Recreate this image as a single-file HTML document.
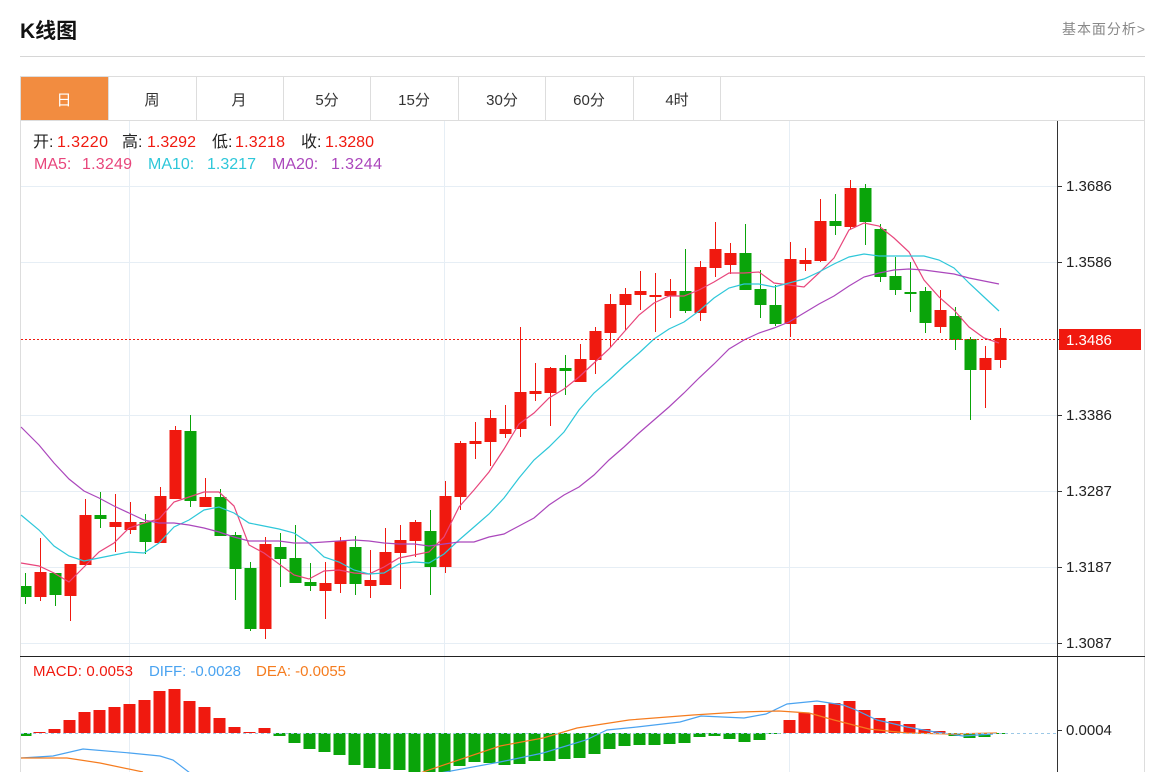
<!DOCTYPE html>
<html><head><meta charset="utf-8"><style>
body{margin:0;background:#fff;width:1172px;height:772px;overflow:hidden;font-family:"Liberation Sans","Noto Sans CJK SC",sans-serif}
svg{position:absolute;left:0;top:0}
</style></head><body>
<svg id="s" width="1172" height="772" xmlns="http://www.w3.org/2000/svg" font-family="Liberation Sans, Noto Sans CJK SC, sans-serif">
<text x="20" y="38" font-size="21" font-weight="bold" fill="#111">K线图</text>
<text x="1145" y="34" font-size="14" fill="#888" text-anchor="end" textLength="83">基本面分析&gt;</text>
<line x1="20" y1="56.5" x2="1145" y2="56.5" stroke="#d6d6d6"/>
<rect x="20.5" y="76.5" width="1124" height="700" fill="none" stroke="#ddd"/>
<line x1="20" y1="120.5" x2="1145" y2="120.5" stroke="#ddd"/>
<rect x="21" y="77" width="87" height="43" fill="#f28c40"/>
<g stroke="#ddd"><line x1="108.5" y1="77" x2="108.5" y2="120"/><line x1="196.5" y1="77" x2="196.5" y2="120"/><line x1="283.5" y1="77" x2="283.5" y2="120"/><line x1="370.5" y1="77" x2="370.5" y2="120"/><line x1="458.5" y1="77" x2="458.5" y2="120"/><line x1="545.5" y1="77" x2="545.5" y2="120"/><line x1="633.5" y1="77" x2="633.5" y2="120"/><line x1="720.5" y1="77" x2="720.5" y2="120"/></g>
<g font-size="15" text-anchor="middle" fill="#333"><text x="64" y="105" fill="#fff">日</text><text x="152" y="105">周</text><text x="239" y="105">月</text><text x="327" y="105">5分</text><text x="414" y="105">15分</text><text x="502" y="105">30分</text><text x="589" y="105">60分</text><text x="677" y="105">4时</text></g>
<g stroke="#e6eef5"><line x1="129.5" y1="121" x2="129.5" y2="772"/><line x1="444.5" y1="121" x2="444.5" y2="772"/><line x1="789.5" y1="121" x2="789.5" y2="772"/>
<line x1="21" y1="186.5" x2="1057" y2="186.5"/><line x1="21" y1="262.5" x2="1057" y2="262.5"/><line x1="21" y1="415.5" x2="1057" y2="415.5"/><line x1="21" y1="491.5" x2="1057" y2="491.5"/><line x1="21" y1="567.5" x2="1057" y2="567.5"/><line x1="21" y1="643.5" x2="1057" y2="643.5"/></g>
<g id="c"></g>
<line x1="21" y1="339.5" x2="1057" y2="339.5" stroke="#f0190f" stroke-dasharray="2,2"/>
<line x1="21" y1="733.5" x2="1057" y2="733.5" stroke="#9cc8e6" stroke-dasharray="3,3"/>
<line x1="1057.5" y1="121" x2="1057.5" y2="772" stroke="#333"/>
<line x1="20" y1="656.5" x2="1145" y2="656.5" stroke="#222"/>
<g stroke="#333"><line x1="1057" y1="186.5" x2="1062" y2="186.5"/><line x1="1057" y1="262.5" x2="1062" y2="262.5"/><line x1="1057" y1="339.5" x2="1062" y2="339.5"/><line x1="1057" y1="415.5" x2="1062" y2="415.5"/><line x1="1057" y1="491.5" x2="1062" y2="491.5"/><line x1="1057" y1="567.5" x2="1062" y2="567.5"/><line x1="1057" y1="643.5" x2="1062" y2="643.5"/><line x1="1057" y1="730.5" x2="1062" y2="730.5"/></g>
<rect x="1059" y="329" width="82" height="21" fill="#f0190f"/>
<g font-size="15" fill="#222"><text x="1066" y="191">1.3686</text><text x="1066" y="267">1.3586</text><text x="1066" y="345" fill="#fff">1.3486</text><text x="1066" y="420">1.3386</text><text x="1066" y="496">1.3287</text><text x="1066" y="572">1.3187</text><text x="1066" y="648">1.3087</text><text x="1066" y="735">0.0004</text></g>
<g font-size="16">
<text x="33" y="147" fill="#222">开:</text><text x="57" y="147" fill="#f0190f" textLength="51">1.3220</text>
<text x="122" y="147" fill="#222">高:</text><text x="147" y="147" fill="#f0190f" textLength="49">1.3292</text>
<text x="212" y="147" fill="#222">低:</text><text x="235" y="147" fill="#f0190f" textLength="50">1.3218</text>
<text x="301" y="147" fill="#222">收:</text><text x="325" y="147" fill="#f0190f" textLength="49">1.3280</text>
<text x="34" y="169" fill="#e8467c">MA5:</text><text x="82" y="169" fill="#e8467c" textLength="50">1.3249</text>
<text x="148" y="169" fill="#2ec7d9">MA10:</text><text x="207" y="169" fill="#2ec7d9" textLength="49">1.3217</text>
<text x="272" y="169" fill="#ab47bc">MA20:</text><text x="331" y="169" fill="#ab47bc" textLength="51">1.3244</text>
</g>
<g font-size="15"><text x="33" y="676" fill="#f0190f" textLength="100">MACD: 0.0053</text><text x="149" y="676" fill="#4aa3f0" textLength="92">DIFF: -0.0028</text><text x="256" y="676" fill="#f57c1f" textLength="90">DEA: -0.0055</text></g>
</svg>
<script>
var K=[["g",586,597,573,604],["r",572,597,538,601],["g",573,595,573,606],["r",564,596,564,621],["r",515,565,499,565],["g",515,519,492,528],["r",522,527,494,552],["r",522,530,502,534],["g",522,542,514,554],["r",496,543,487,543],["r",430,499,426,499],["g",431,501,415,507],["r",497,507,478,507],["g",497,536,489,536],["g",535,569,532,600],["g",568,629,562,631],["r",544,629,537,639],["g",547,559,533,587],["g",558,583,525,583],["g",582,586,563,591],["r",583,591,562,619],["r",541,584,537,593],["g",547,584,536,595],["r",580,586,550,598],["r",552,585,528,585],["r",540,553,525,589],["r",522,541,520,557],["g",531,567,510,595],["r",496,567,481,573],["r",443,497,441,510],["r",441,444,422,459],["r",418,442,410,466],["r",429,434,405,438],["r",392,429,327,437],["r",391,394,363,401],["r",368,393,367,426],["g",368,371,355,395],["r",359,382,344,382],["r",331,360,327,374],["r",304,333,294,347],["r",294,305,288,330],["r",291,295,271,310],["r",295,297,273,332],["r",291,296,279,318],["g",291,311,249,313],["r",267,313,261,321],["r",249,268,222,277],["r",253,265,243,274],["g",253,290,224,290],["g",289,305,270,318],["g",305,324,285,326],["r",259,324,242,337],["r",260,264,248,271],["r",221,261,199,262],["g",221,226,194,235],["r",188,227,180,229],["g",188,222,184,245],["g",229,277,224,282],["g",276,290,257,295],["g",292,293,262,312],["g",291,323,287,333],["r",310,327,290,333],["g",316,340,307,350],["g",339,370,337,420],["r",358,370,346,408],["r",338,360,328,368]];
var h="",R="#f0190f",G="#0aa40a";
K.forEach(function(k,i){var x=25+15*i,c=k[0]=="r"?R:G;var x0=Math.max(21,x-5.5);
h+='<line x1="'+(x+.5)+'" y1="'+k[3]+'" x2="'+(x+.5)+'" y2="'+k[4]+'" stroke="'+c+'"/>';
h+='<rect x="'+x0+'" y="'+k[1]+'" width="'+(x+5.5-x0+1)+'" height="'+Math.max(2,k[2]-k[1])+'" fill="'+c+'"/>';});
function pl(p,c){return '<polyline fill="none" stroke="'+c+'" stroke-width="1.2" points="'+p+'"/>';}
h+=pl("21,563 39,566 54,573 69,582 84,567 99,552 114,543 129,528 144,523 159,519 174,502 189,497 204,492 219,492 234,506 249,545 264,553 279,564 294,575 309,579 324,571 339,570 354,573 369,574 384,567 399,558 414,555 429,552 444,537 459,507 474,490 489,472 504,449 519,424 534,413 549,398 564,389 579,377 594,363 609,349 624,332 639,315 654,303 669,296 684,296 699,290 714,282 729,273 744,273 759,272 774,283 789,285 804,287 819,273 834,258 849,230 864,223 879,226 894,238 909,252 924,280 939,297 954,310 969,327 984,338 999,343","#e8467c");
h+=pl("21,515 39,530 54,546 69,556 84,561 99,558 114,555 129,552 144,553 159,543 174,527 189,520 204,510 219,507 234,513 249,523 264,526 279,529 294,533 309,543 324,557 339,562 354,570 369,574 384,573 399,564 414,562 429,563 444,554 459,540 474,527 489,514 504,498 519,478 534,460 549,447 564,432 579,410 594,393 609,380 624,366 639,353 654,339 669,329 684,322 699,311 714,298 729,288 744,284 759,284 774,287 789,283 804,279 819,272 834,264 849,257 864,254 879,256 894,256 909,256 924,256 939,260 954,268 969,283 984,297 999,311","#2ec7d9");
h+=pl("21,427 39,445 54,463 69,479 84,491 99,498 114,506 129,513 144,520 159,523 174,523 189,525 204,528 219,532 234,537 249,541 264,541 279,541 294,543 309,543 324,542 339,541 354,540 369,541 384,543 399,544 414,544 429,546 444,544 459,542 474,542 489,537 504,534 519,526 534,518 549,505 564,495 579,487 594,475 609,460 624,447 639,433 654,420 669,407 684,393 699,378 714,364 729,349 744,340 759,333 774,328 789,322 804,313 819,304 834,296 849,286 864,277 879,273 894,270 909,269 924,270 939,272 954,274 969,278 984,281 999,284","#ab47bc");
var M=[[25,736],[39,732],[54,729],[69,720],[84,712],[99,710],[114,707],[129,704],[144,700],[159,691],[174,689],[189,701],[204,707],[219,718],[234,727],[249,732],[264,728],[279,736],[294,743],[309,749],[324,752],[339,755],[354,765],[369,768],[384,769],[399,770],[414,772],[429,772],[444,772],[459,766],[474,762],[489,763],[504,765],[519,764],[534,761],[549,761],[564,759],[579,758],[594,754],[609,749],[624,746],[639,745],[654,745],[669,744],[684,743],[699,737],[714,736],[729,739],[744,742],[759,740],[774,734],[789,720],[804,713],[819,705],[834,703],[849,701],[864,710],[879,718],[894,721],[909,724],[924,729],[939,731],[954,736],[969,738],[984,737],[999,734]];
M.forEach(function(m){var x=m[0],y=m[1],z=733;var c=y<z?R:G;var x0=Math.max(21,x-5.5);h+='<rect x="'+x0+'" y="'+Math.min(y,z)+'" width="'+(x+5.5-x0+1)+'" height="'+Math.max(1,Math.abs(y-z))+'" fill="'+c+'"/>';});
h+=pl("21,758 53,756 83,749 130,753 160,756 173,760 190,773","#4aa3f0");
h+=pl("21,758 67,758 100,763 143,772","#f57c1f");
h+=pl("440,773 500,762 543,753 586,740 607,730 637,727 680,722 701,716 744,718 766,714 787,704 817,701 843,705 856,710 877,720 907,727 929,731 963,736 993,734","#4aa3f0");
h+=pl("420,773 500,746 543,738 577,728 629,720 693,715 740,712 779,711 809,713 834,720 869,729 907,733 950,734 997,733","#f57c1f");
document.getElementById("c").innerHTML=h;
</script>
</body></html>
